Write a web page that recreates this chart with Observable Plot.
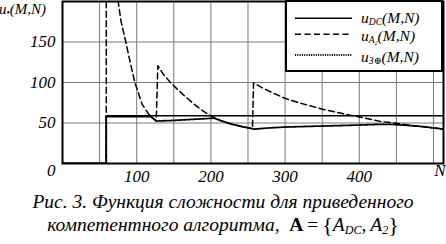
<!DOCTYPE html>
<html><head><meta charset="utf-8">
<script src="https://cdn.jsdelivr.net/npm/d3@7"></script>
<script src="https://cdn.jsdelivr.net/npm/@observablehq/plot@0.6"></script>
<style>
body{margin:0;background:#fff}
#wrap{position:relative;width:446px;height:244px;overflow:hidden;font-family:"Liberation Serif","Tinos","Times New Roman","DejaVu Serif",serif;font-style:italic;color:#000}
.abs{position:absolute;white-space:nowrap;line-height:1}
sub{font-size:0.62em;vertical-align:baseline;position:relative;top:0.25em;line-height:0}
#legend{position:absolute;left:285px;top:0;width:158px;height:72px;box-sizing:border-box;border:2px solid #000;background:#fff}
#caption{position:absolute;left:0;top:190px;width:446px;text-align:center;font-size:19.5px;line-height:23px}
.up{font-style:normal}
.br{font-style:normal;font-size:22px;vertical-align:-1px;line-height:0}
</style></head>
<body><div id="wrap"></div>
<script>
// axis ticks and labels
const xTicks = [100, 200, 300, 400];
const yTicks = [50, 100, 150];
const gridX = [50, 100, 150, 200, 250, 300, 350, 400, 450, 500];
const gridY = [50, 100, 150];
const xDomain = [0, 513.5];
const yDomain = [0, 200];
const xEndLabel = "N";
const yZeroLabel = "0";

// u_DC(M,N) - solid
const N_dc = [0, 59, 59, 513.5];
const U_dc = [0, 0, 59, 59];

// u_A2(M,N) - dashed
const N_a2 = [0, 59, 59, 71, 75, 79, 84.9, 90, 97.5, 107.4, 116.3, 126.3,
  128.5, 136, 145.5, 154.6, 165, 179, 186, 199.5, 213, 228.6, 242, 256,
  257.5, 270, 285, 299.6, 320.8, 350.4, 388, 400, 428, 450, 480, 505, 513.5];
const U_a2 = [0, 0, 250, 250, 200, 175, 151.8, 130, 100, 73, 60.8, 52.5,
  120.7, 110, 100, 91.8, 83, 72, 67, 59, 53, 48.4, 45.5, 43,
  99.5, 93, 86.5, 80.6, 74.4, 67, 59.5, 57.5, 52, 49.6, 46, 43.4, 42.5];

// u_З⊕(M,N) - dotted
const N_z = [0, 59, 59, 118.6, 126.3, 145, 165, 185, 204, 213, 228.6, 242, 256,
  258, 280, 300, 330, 360, 400, 428, 445, 465, 480, 505, 513.5];
const U_z = [0, 0, 58, 58, 52.5, 53, 54, 55, 56, 53, 48.4, 45.5, 43,
  42.5, 44, 45, 45.8, 46.5, 47.5, 48.4, 48.2, 47, 46, 43.4, 42.5];

const toRows = (xs, ys) => xs.map((n, i) => ({n, u: ys[i]}));
const FONT = '"Liberation Serif", Tinos, "Times New Roman", "DejaVu Serif", serif';

const chart = Plot.plot({
  width: 446, height: 188,
  marginLeft: 62, marginRight: 3, marginTop: 1, marginBottom: 25,
  x: {domain: xDomain},
  y: {domain: yDomain},
  style: {fontFamily: FONT, fontStyle: "italic", fontSize: "17px", background: "white", color: "black", overflow: "visible"},
  marks: [
    Plot.ruleX(gridX, {stroke: "#7a7a7a", strokeWidth: 1}),
    Plot.ruleY(gridY, {stroke: "#7a7a7a", strokeWidth: 1}),
    Plot.line(toRows(N_dc, U_dc), {x: "n", y: "u", stroke: "black", strokeWidth: 1.5, clip: true}),
    Plot.line(toRows(N_a2, U_a2), {x: "n", y: "u", stroke: "black", strokeWidth: 1.5, strokeDasharray: "6,3.5", clip: true}),
    Plot.line(toRows(N_z, U_z), {x: "n", y: "u", stroke: "black", strokeWidth: 1.8, strokeDasharray: "1.1,1.2", clip: true}),
    Plot.frame({stroke: "black", strokeWidth: 2}),
    Plot.axisX({ticks: xTicks, tickSize: 0, tickPadding: 6, label: null, fontSize: 17}),
    Plot.axisY({ticks: yTicks, tickSize: 0, tickPadding: 7, label: null, fontSize: 17}),
    Plot.text([yZeroLabel], {frameAnchor: "bottom-left", text: d => d, dx: -7, dy: 12, textAnchor: "end", fontSize: 17}),
    Plot.text([xEndLabel], {frameAnchor: "bottom-right", text: d => d, dx: 2, dy: 12, textAnchor: "end", fontSize: 17})
  ]
});

const wrap = document.getElementById("wrap");
chart.style.position = "absolute";
chart.style.left = "0";
chart.style.top = "0";
wrap.appendChild(chart);

// y label
const yl = document.createElement("div");
yl.className = "abs";
yl.style.cssText = "left:-1px;top:2px;font-size:15px";
yl.innerHTML = "u<sub>•</sub>(M,N)";
wrap.appendChild(yl);

// legend
const legendItems = [
  {label: "u<sub>DC</sub>(M,N)", dash: null, w: 1.5},
  {label: "u<sub>A<sub>2</sub></sub>(M,N)", dash: "6,3.5", w: 1.5},
  {label: "u<sub>З⊕</sub>(M,N)", dash: "1.1,1.2", w: 1.8}
];
const legendY = [18.3, 34.3, 55];
const legendTextY = [17.5, 36, 56.5];
const lg = document.createElement("div");
lg.id = "legend";
wrap.appendChild(lg);
const ns = "http://www.w3.org/2000/svg";
const ls = document.createElementNS(ns, "svg");
ls.setAttribute("width", 446); ls.setAttribute("height", 80);
ls.style.cssText = "position:absolute;left:0;top:0";
legendItems.forEach((it, i) => {
  const l = document.createElementNS(ns, "line");
  l.setAttribute("x1", 295); l.setAttribute("x2", 352);
  l.setAttribute("y1", legendY[i]); l.setAttribute("y2", legendY[i]);
  l.setAttribute("stroke", "black"); l.setAttribute("stroke-width", it.w);
  if (it.dash) l.setAttribute("stroke-dasharray", it.dash);
  ls.appendChild(l);
  const t = document.createElement("div");
  t.className = "abs";
  t.style.cssText = `left:361px;top:${legendTextY[i] - 8}px;font-size:15.5px;height:15px`;
  t.innerHTML = it.label;
  wrap.appendChild(t);
});
wrap.appendChild(ls);

// caption
const cap = document.createElement("div");
cap.id = "caption";
cap.innerHTML = "Рис. 3. Функция сложности для приведенного<br>компетентного алгоритма,&nbsp; <b class='up'>A</b><span class='up'>&thinsp;=&thinsp;</span><span class='br'>{</span><i>A</i><sub>DC</sub>,&thinsp;<i>A</i><sub>2</sub><span class='br'>}</span>";
wrap.appendChild(cap);
</script>
</body></html>
